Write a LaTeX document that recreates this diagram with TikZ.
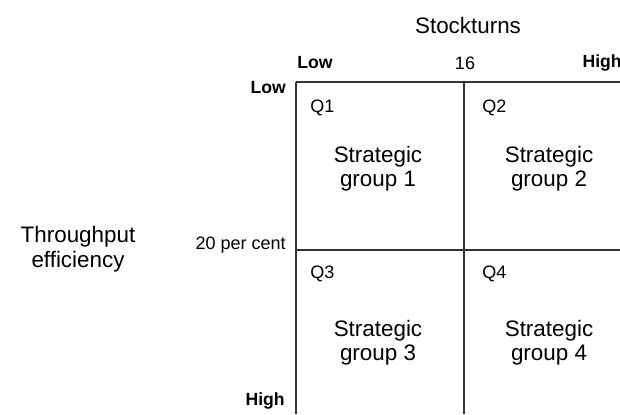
\documentclass[tikz,border=0pt]{standalone}
\usepackage{fontspec}
\setmainfont{Liberation Sans}
\usetikzlibrary{positioning}
\tikzstyle{big}=[font=\fontsize{16.8}{18}\selectfont, align=center, inner sep=0pt]
\tikzstyle{small}=[font=\fontsize{13.5}{15}\selectfont, inner sep=0pt]
\tikzstyle{axis}=[font=\fontsize{13.2}{15}\selectfont\bfseries, inner sep=0pt]
\tikzstyle{grid}=[line width=1pt, draw=black!80]

\begin{document}
\begin{tikzpicture}[x=0.75pt, y=-0.75pt]
            \useasboundingbox (0,0) rectangle (620,414);
            % grid corners
            \coordinate (TL) at (296,82);
            \coordinate (TM) at (464,82);
            \coordinate (TR) at (620,82);
            \coordinate (ML) at (296,250);
            \coordinate (MR) at (620,250);
            \coordinate (BL) at (296,414);
            \coordinate (BM) at (464,414);
            \draw[grid] (TL) -- (TR);
            \draw[grid] (TL) -- (BL);
            \draw[grid] (TM) -- (BM);
            \draw[grid] (ML) -- (MR);
            % axis labels
            \node[big] (stock) at (468,25) {Stockturns};
            \node[big] (thru) at (78,249) {Throughput\\[1pt]efficiency};
            \node[axis, anchor=west] (xlow) at (297,63) {Low};
            \node[small] (xmid) at (465,63) {16};
            \node[axis, anchor=east] (xhigh) at (622,63) {High};
            \node[axis, anchor=east] (ylow) at (286,88) {Low};
            \node[small, anchor=east] (ymid) at (286,245) {20 per cent};
            \node[axis, anchor=east] (yhigh) at (285,401) {High};
            % quadrants
            \node[small, anchor=west] (q1) at (310,108) {Q1};
            \node[small, anchor=west] (q2) at (482,108) {Q2};
            \node[small, anchor=west] (q3) at (310,274) {Q3};
            \node[small, anchor=west] (q4) at (482,274) {Q4};
            \node[big] (g1) at (378,169) {Strategic\\[0pt]group 1};
            \node[big] (g2) at (549,169) {Strategic\\[0pt]group 2};
            \node[big] (g3) at (378,343) {Strategic\\[0pt]group 3};
            \node[big] (g4) at (549,343) {Strategic\\[0pt]group 4};
        \end{tikzpicture}
\end{document}
